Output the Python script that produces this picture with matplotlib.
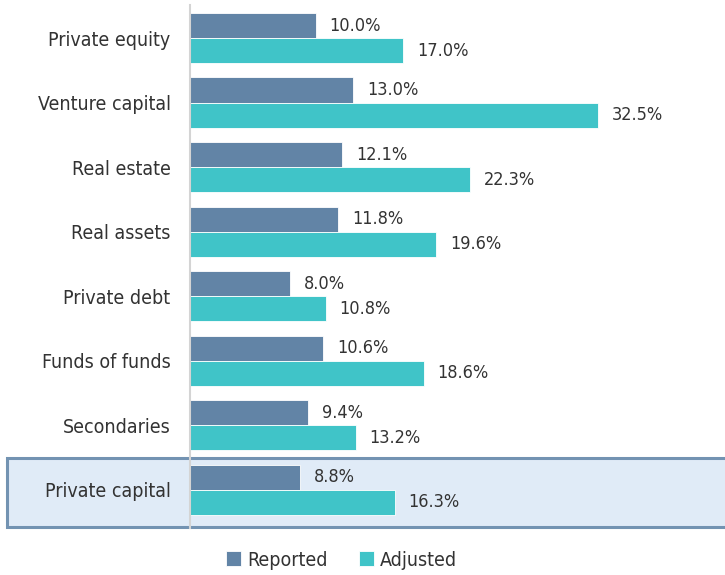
import matplotlib.pyplot as plt
from matplotlib.patches import Rectangle

plt.rcParams['font.family'] = ['DejaVu Sans']
plt.rcParams['font.stretch'] = 'condensed'

categories = ["Private equity", "Venture capital", "Real estate", "Real assets",
              "Private debt", "Funds of funds", "Secondaries", "Private capital"]
reported = [10.0, 13.0, 12.1, 11.8, 8.0, 10.6, 9.4, 8.8]
adjusted = [17.0, 32.5, 22.3, 19.6, 10.8, 18.6, 13.2, 16.3]

c_rep = "#6284a6"
c_adj = "#40c4c8"
txt = "#333333"

fig = plt.figure(figsize=(7.25, 5.75), dpi=100)
ax = fig.add_axes([0.262, 0.082, 0.738, 0.909])

h = 0.39
ys = list(range(len(categories)))
ax.barh([y - h / 2 for y in ys], reported, height=h, color=c_rep,
        edgecolor="white", linewidth=0.6, zorder=2, label="Reported")
ax.barh([y + h / 2 for y in ys], adjusted, height=h, color=c_adj,
        edgecolor="white", linewidth=0.6, zorder=2, label="Adjusted")

for y, r, a in zip(ys, reported, adjusted):
    ax.annotate(f"{r:.1f}%", (r, y - h / 2), xytext=(10, 0), textcoords="offset points",
                va="center", ha="left", fontsize=13, color=txt)
    ax.annotate(f"{a:.1f}%", (a, y + h / 2), xytext=(10, 0), textcoords="offset points",
                va="center", ha="left", fontsize=13, color=txt)

ax.set_xlim(0, 42.6)
ax.set_ylim(7.59, -0.51)
ax.set_yticks(ys)
ax.set_yticklabels(categories, fontsize=14, color=txt)
ax.tick_params(axis="y", length=0, pad=14)
ax.set_xticks([])
for s in ["top", "right", "bottom"]:
    ax.spines[s].set_visible(False)
ax.spines["left"].set_color("#d4d4d4")
ax.spines["left"].set_linewidth(1.5)

# highlight around the last group
box = Rectangle((-14.6, 6.5), 60, 1.08, facecolor="#e0ebf7", edgecolor="#7393b2",
                linewidth=2.2, clip_on=False, zorder=0.5)
ax.add_patch(box)

ax.legend(loc="upper center", bbox_to_anchor=(0.283, -0.01), ncol=2, frameon=False,
          fontsize=14, handlelength=0.8, handleheight=0.8, handletextpad=0.3,
          columnspacing=1.6, labelcolor=txt)

fig.savefig("out.png", dpi=100)
